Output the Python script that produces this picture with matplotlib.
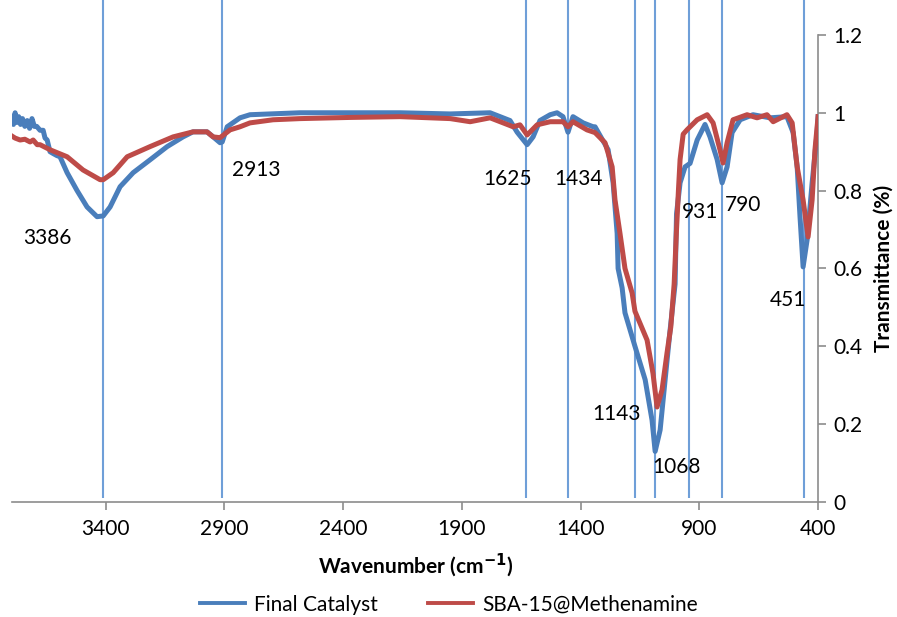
import matplotlib
matplotlib.use("Agg")
import matplotlib.pyplot as plt
from matplotlib.ticker import FuncFormatter

plt.rcParams['font.family'] = ['Lato', 'DejaVu Sans']

# Final Catalyst spectrum (wavenumber, transmittance)
BLUE_WN = [3794, 3788, 3781, 3774, 3766, 3758, 3750, 3740, 3730, 3720, 3710, 3700,
           3690, 3676, 3663, 3655, 3646, 3634, 3620, 3605, 3592, 3562, 3520, 3478,
           3436, 3410, 3381, 3339, 3284, 3213, 3141, 3074, 3032, 2973, 2947, 2918,
           2909, 2888, 2834, 2792, 2581, 2371, 2160, 1949, 1781, 1697, 1667, 1625,
           1600, 1571, 1528, 1499, 1474, 1453, 1432, 1389, 1347, 1339, 1284, 1263,
           1246, 1242, 1225, 1213, 1171, 1128, 1099, 1086, 1065, 1044, 1023, 1002,
           996, 981, 960, 939, 909, 876, 855, 825, 804, 783, 762, 728, 674, 602,
           531, 505, 488, 476, 463, 446, 425, 404, 400]
BLUE_T = [0.99, 0.97, 1.00, 0.975, 0.99, 0.97, 0.985, 0.965, 0.98, 0.96, 0.985, 0.965,
          0.965, 0.955, 0.955, 0.935, 0.93, 0.90, 0.895, 0.89, 0.887, 0.846, 0.80, 0.758,
          0.733, 0.735, 0.758, 0.81, 0.846, 0.879, 0.913, 0.938, 0.951, 0.951, 0.938, 0.923,
          0.925, 0.964, 0.987, 0.995, 1.0, 1.0, 1.0, 0.997, 1.0, 0.98, 0.95, 0.918,
          0.938, 0.98, 0.995, 1.0, 0.99, 0.95, 0.99, 0.974, 0.964, 0.964, 0.905, 0.82,
          0.69, 0.60, 0.55, 0.486, 0.40, 0.314, 0.21, 0.13, 0.185, 0.314, 0.442, 0.56,
          0.74, 0.82, 0.861, 0.87, 0.93, 0.97, 0.938, 0.88, 0.82, 0.861, 0.949, 0.982, 0.995, 0.987,
          0.99, 0.949, 0.861, 0.733, 0.604, 0.674, 0.82, 0.949, 0.99]

# SBA-15@Methenamine spectrum
RED_WN = [3794, 3781, 3760, 3740, 3718, 3705, 3688, 3676, 3634, 3562, 3495, 3423,
          3410, 3368, 3309, 3213, 3116, 3032, 2973, 2947, 2918, 2876, 2834, 2792,
          2695, 2581, 2371, 2160, 1949, 1865, 1781, 1726, 1684, 1655, 1625, 1583,
          1528, 1474, 1453, 1432, 1373, 1339, 1297, 1267, 1255, 1234, 1213, 1183,
          1171, 1120, 1095, 1078, 1057, 1036, 1020, 1006, 996, 988, 981, 968, 952,
          909, 867, 842, 813, 800, 783, 758, 699, 657, 615, 589, 531, 509, 488,
          463, 442, 425, 413, 400]
RED_T = [0.94, 0.935, 0.93, 0.932, 0.925, 0.93, 0.918, 0.918, 0.905, 0.887, 0.853, 0.828,
         0.828, 0.846, 0.887, 0.913, 0.938, 0.951, 0.951, 0.938, 0.936, 0.956, 0.964, 0.974,
         0.982, 0.985, 0.988, 0.99, 0.985, 0.977, 0.987, 0.974, 0.964, 0.969, 0.943, 0.969,
         0.977, 0.977, 0.964, 0.977, 0.956, 0.949, 0.923, 0.861, 0.776, 0.69, 0.60, 0.537,
         0.49, 0.416, 0.33, 0.244, 0.288, 0.383, 0.45, 0.56, 0.70, 0.80, 0.88, 0.945, 0.956,
         0.982, 0.995, 0.974, 0.905, 0.871, 0.923, 0.982, 0.995, 0.987, 0.995, 0.977, 0.995, 0.974, 0.861,
         0.776, 0.681, 0.776, 0.905, 0.99]

# marked bands: line position, label text, label position
PEAK_LINES = [3410, 2909, 1629, 1453, 1171, 1086, 943, 804, 459]
PEAK_LABELS = ["3386", "2913", "1625", "1434", "1143", "1068", "931", "790", "451"]
LABEL_WN = [3646, 2766, 1709, 1410, 1250, 998, 897, 716, 526]
LABEL_T = [0.677, 0.853, 0.83, 0.83, 0.226, 0.09, 0.744, 0.763, 0.52]

X_TICKS = [3400, 2900, 2400, 1900, 1400, 900, 400]
Y_TICKS = [0, 0.2, 0.4, 0.6, 0.8, 1.0, 1.2]

BLUE = "#4a7ebb"
RED = "#be4b48"
LINE_BLUE = "#6f9fd8"
GRAY = "#8c8c8c"

fig = plt.figure(figsize=(8.97, 6.17), dpi=100)
ax = fig.add_axes([0.0134, 0.1864, 0.8986, 0.757])

for wn in PEAK_LINES:
    ax.vlines(wn, 0.01, 1.29, color=LINE_BLUE, lw=1.5, clip_on=False, zorder=1)

ax.plot(BLUE_WN, BLUE_T, color=BLUE, lw=3.6, label="Final Catalyst", zorder=3,
        solid_joinstyle="round")
ax.plot(RED_WN, RED_T, color=RED, lw=3.6, label="SBA-15@Methenamine", zorder=4,
        solid_joinstyle="round")

for txt, x, y in zip(PEAK_LABELS, LABEL_WN, LABEL_T):
    ax.text(x, y, txt, fontsize=15, ha="center", va="center", color="black", zorder=5)

ax.set_xlim(3794, 400)
ax.set_ylim(0, 1.2)
ax.set_xticks(X_TICKS)
ax.set_yticks(Y_TICKS)
ax.yaxis.set_major_formatter(FuncFormatter(lambda v, p: f"{v:g}"))

ax.yaxis.tick_right()
ax.yaxis.set_label_position("right")
for side in ["top", "left"]:
    ax.spines[side].set_visible(False)
for side in ["right", "bottom"]:
    ax.spines[side].set_color(GRAY)
    ax.spines[side].set_linewidth(1.2)
ax.tick_params(axis="both", colors=GRAY, labelcolor="black", labelsize=15,
               length=6, width=1.2, direction="out")
ax.tick_params(axis="x", pad=6)
ax.tick_params(axis="y", pad=5)

ax.set_xlabel("Wavenumber (cm$^{\\mathbf{-1}}$)", fontsize=15, fontweight="bold", labelpad=9)
ax.set_ylabel("Transmittance (%)", fontsize=15, fontweight="bold", labelpad=8)

leg = fig.legend(loc="center", bbox_to_anchor=(0.50, 0.02), ncol=2, frameon=False,
                 fontsize=15, handlelength=2.2, handletextpad=0.4, columnspacing=2.4,
                 borderpad=0.1)
for line in leg.get_lines():
    line.set_linewidth(2.8)

fig.savefig("out.png", dpi=100)
